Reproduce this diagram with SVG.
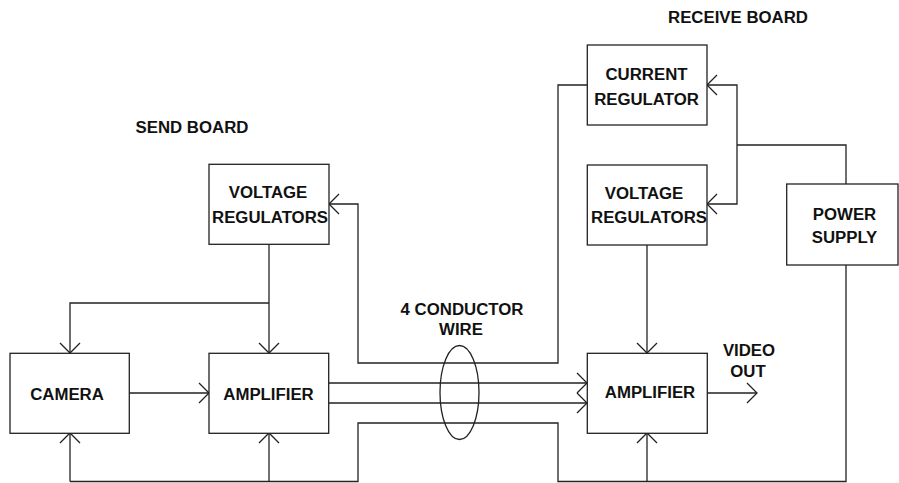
<svg xmlns="http://www.w3.org/2000/svg" width="899" height="483" viewBox="0 0 899 483">
<style>
.box{fill:#fff;stroke:#222;stroke-width:1.3}
.ln{fill:none;stroke:#222;stroke-width:1.3}
.arr{fill:none;stroke:#222;stroke-width:1.3;marker-end:url(#ah)}
text{font-family:"Liberation Sans",Arial,sans-serif;font-weight:bold;font-size:16.8px;fill:#111;text-anchor:middle}
</style>
<defs>
<marker id="ah" viewBox="-12 -12 14 24" refX="0" refY="0" markerWidth="14" markerHeight="24" markerUnits="userSpaceOnUse" orient="auto">
<path d="M-10,-10 L0,0 L-10,10" fill="none" stroke="#222" stroke-width="1.3"/>
</marker>
</defs>
<rect width="899" height="483" fill="#fff"/>
<text x="738" y="23">RECEIVE BOARD</text>
<text x="192" y="133">SEND BOARD</text>
<g id="connectors">
<path class="arr" d="M269,244 V353"/>
<path class="arr" d="M269,303 H70 V353"/>
<path class="arr" d="M129,393 H209"/>
<path class="arr" d="M329,383 H587"/>
<path class="arr" d="M329,403 H587"/>
<path class="arr" d="M587,85 H558 V363 H358 V204 H329"/>
<path class="arr" d="M70,481.5 V433"/>
<path class="arr" d="M269,481.5 V433"/>
<path class="ln" d="M70,481.5 H358 V423 H558 V481.5 H846 V265"/>
<path class="arr" d="M647,481.5 V433"/>
<path class="arr" d="M647,245 V353"/>
<path class="ln" d="M846,184 V145 H737"/>
<path class="arr" d="M737,145 V85 H707"/>
<path class="arr" d="M737,145 V204 H707"/>
<path class="arr" d="M707,393 H757"/>
<ellipse class="ln" cx="459.5" cy="392.5" rx="19.5" ry="47"/>
</g>
<text x="462" y="315">4 CONDUCTOR</text>
<text x="461" y="335">WIRE</text>
<text x="749" y="356">VIDEO</text>
<text x="748" y="377">OUT</text>
<g id="camera">
<rect class="box" x="10" y="353.3" width="119.3" height="80"/>
<text x="67" y="400">CAMERA</text>
</g>
<g id="send-amplifier">
<rect class="box" x="209" y="353.3" width="119.7" height="80"/>
<text x="268.5" y="400">AMPLIFIER</text>
</g>
<g id="send-voltage-regulators">
<rect class="box" x="209" y="164.3" width="120" height="80"/>
<text x="268" y="198">VOLTAGE</text>
<text x="270" y="223">REGULATORS</text>
</g>
<g id="current-regulator">
<rect class="box" x="587.3" y="45" width="119.7" height="80"/>
<text x="646.5" y="80">CURRENT</text>
<text x="646.5" y="105">REGULATOR</text>
</g>
<g id="receive-voltage-regulators">
<rect class="box" x="587.3" y="165" width="119.7" height="80"/>
<text x="644" y="199">VOLTAGE</text>
<text x="649" y="223">REGULATORS</text>
</g>
<g id="power-supply">
<rect class="box" x="786.7" y="184" width="111.3" height="81"/>
<text x="844.5" y="220">POWER</text>
<text x="844.5" y="243">SUPPLY</text>
</g>
<g id="receive-amplifier">
<rect class="box" x="587.3" y="353.3" width="120" height="80"/>
<text x="650" y="398">AMPLIFIER</text>
</g>
</svg>
